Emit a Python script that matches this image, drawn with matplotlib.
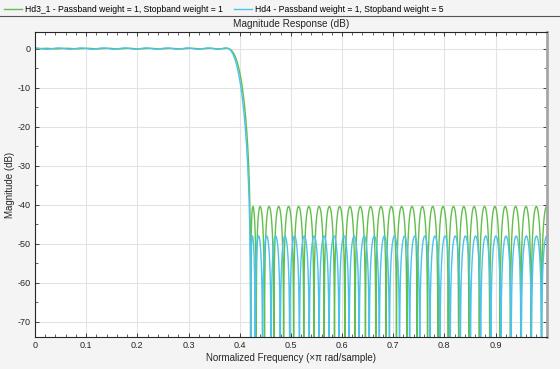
import numpy as np
import matplotlib
matplotlib.use("Agg")
import matplotlib.pyplot as plt
from matplotlib.lines import Line2D
from matplotlib.ticker import MultipleLocator

filter_order = 100
band_edges = [0.0, 0.38, 0.42, 1.0]      # x pi rad/sample
passband_weights = [1, 1]
stopband_weights = [1, 5]
labels = ["Hd3_1 - Passband weight = 1, Stopband weight = 1",
          "Hd4 - Passband weight = 1, Stopband weight = 5"]
colors = ["#62bf4c", "#4cc2ee"]

x_ticks = [0, 0.1, 0.2, 0.3, 0.4, 0.5, 0.6, 0.7, 0.8, 0.9]
y_ticks = [0, -10, -20, -30, -40, -50, -60, -70]
y_limits = [-73.85, 4.15]


def remez_lowpass(order, edges, wp, ws, n_grid=12000):
    # equiripple (Parks-McClellan) design of a type I lowpass
    r = order // 2 + 1
    fp, fs = edges[1], edges[2]
    n1 = int(n_grid * fp / (fp + 1 - fs))
    n2 = n_grid - n1
    f = np.concatenate([np.linspace(0, fp, n1), np.linspace(fs, 1, n2)])
    D = np.concatenate([np.ones(n1), np.zeros(n2)])
    W = np.concatenate([np.full(n1, float(wp)), np.full(n2, float(ws))])
    C = np.cos(np.outer(np.pi * f, np.arange(r)))
    bands = [(0, n1 - 1), (n1, n_grid - 1)]
    ext = np.round(np.linspace(0, n_grid - 1, r + 1)).astype(int)
    a = None
    for it in range(60):
        M = np.column_stack([C[ext], (-1.0) ** np.arange(r + 1) / W[ext]])
        sol = np.linalg.solve(M, D[ext])
        a = sol[:-1]
        E = W * (D - C @ a)
        cand = []
        for s, e in bands:
            Eb = E[s:e + 1]
            left = np.concatenate([[np.nan], Eb[:-1]])
            right = np.concatenate([Eb[1:], [np.nan]])
            lmax = (np.nan_to_num(left, nan=-np.inf) <= Eb) & (np.nan_to_num(right, nan=-np.inf) <= Eb) & (Eb > 0)
            lmin = (np.nan_to_num(left, nan=np.inf) >= Eb) & (np.nan_to_num(right, nan=np.inf) >= Eb) & (Eb < 0)
            cand.extend(list(np.where(lmax | lmin)[0] + s))
        cand = sorted(set(cand))
        merged = []
        for i in cand:
            if merged and np.sign(E[i]) == np.sign(E[merged[-1]]):
                if abs(E[i]) > abs(E[merged[-1]]):
                    merged[-1] = i
            else:
                merged.append(i)
        while len(merged) > r + 1:
            if abs(E[merged[0]]) < abs(E[merged[-1]]):
                merged.pop(0)
            else:
                merged.pop()
        if len(merged) < r + 1:
            break
        new_ext = np.array(merged)
        if np.array_equal(new_ext, ext):
            break
        ext = new_ext
    return a


freq = np.linspace(0, 1, 16384, endpoint=False)
responses = []
for wp, ws in zip(passband_weights, stopband_weights):
    a = remez_lowpass(filter_order, band_edges, wp, ws)
    amp = np.cos(np.outer(np.pi * freq, np.arange(len(a)))) @ a
    responses.append(20 * np.log10(np.maximum(np.abs(amp), 1e-9)))

plt.rcParams["font.family"] = ["Liberation Sans", "DejaVu Sans"]
plt.rcParams["axes.unicode_minus"] = False
fig = plt.figure(figsize=(5.6, 3.69), dpi=100, facecolor="#f4f4f4")
ax = fig.add_axes([0.0625, 0.0875, 0.9137, 0.8247])
ax.set_facecolor("white")

for mag, c, lab in zip(responses, colors, labels):
    ax.plot(freq, mag, color=c, lw=1.0, label=lab)

ax.set_xlim(0, 1)
ax.set_ylim(*y_limits)
ax.set_xticks(x_ticks)
ax.set_xticklabels([f"{t:g}" for t in x_ticks])
ax.set_yticks(y_ticks)
ax.xaxis.set_minor_locator(MultipleLocator(0.02))
ax.yaxis.set_minor_locator(MultipleLocator(5))
ax.tick_params(which="both", direction="in", top=True, right=True,
               labelsize=6.5, colors="#262626", pad=3)
ax.tick_params(which="major", length=3, width=0.6)
ax.tick_params(which="minor", length=2, width=0.5)
ax.grid(True, which="major", color="#e3e3e3", lw=0.8)
ax.set_axisbelow(True)
for side in ["left", "bottom", "top"]:
    ax.spines[side].set_color("#262626")
    ax.spines[side].set_linewidth(0.8)
ax.spines["right"].set_color("#a6a6a6")
ax.spines["right"].set_linewidth(2)

ax.set_title("Magnitude Response (dB)", fontsize=7.2, color="#262626", pad=4)
ax.set_xlabel("Normalized Frequency (\u00d7\u03c0 rad/sample)", fontsize=7, color="#262626", labelpad=2)
ax.set_ylabel("Magnitude (dB)", fontsize=7, color="#262626", labelpad=2)

handles = [Line2D([], [], color=c, lw=1.0) for c in colors]
fig.legend(handles, labels, loc="upper left", bbox_to_anchor=(-0.002, 1.0), ncol=2,
           frameon=False, fontsize=6.2, handlelength=2.1, handletextpad=0.35,
           columnspacing=1.3, borderaxespad=0.2)
fig.add_artist(Line2D([0, 1], [1 - 15.5 / 369, 1 - 15.5 / 369], color="#555555", lw=0.8,
                      transform=fig.transFigure))

fig.savefig("out.png", dpi=100, facecolor=fig.get_facecolor())
